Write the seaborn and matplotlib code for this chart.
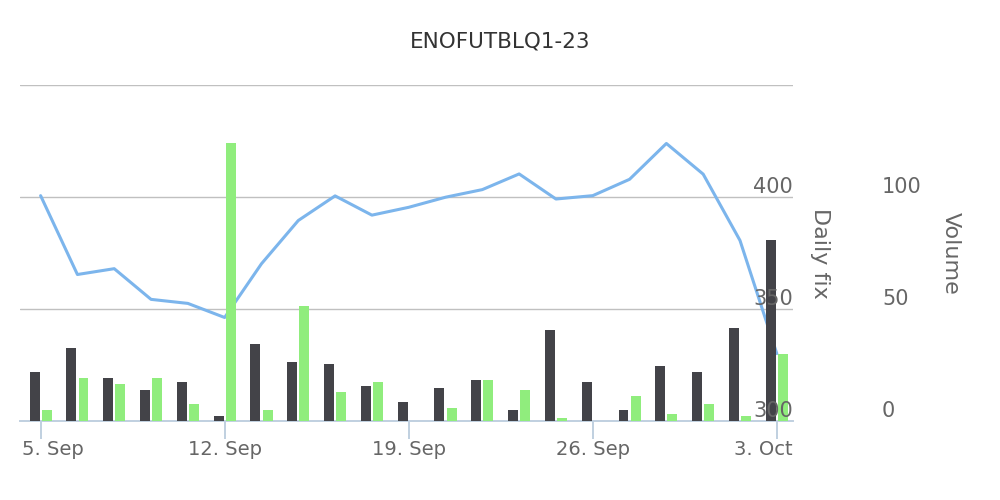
import pandas as pd
import seaborn as sns
from matplotlib import pyplot as plt
from matplotlib.transforms import ScaledTranslation

sns.set_style("white")
plt.rcParams['font.family'] = ['DejaVu Sans']

# business days, drawn on an ordinal axis
dates = ['2022-09-05', '2022-09-06', '2022-09-07', '2022-09-08', '2022-09-09',
         '2022-09-12', '2022-09-13', '2022-09-14', '2022-09-15', '2022-09-16',
         '2022-09-19', '2022-09-20', '2022-09-21', '2022-09-22', '2022-09-23',
         '2022-09-26', '2022-09-27', '2022-09-28', '2022-09-29', '2022-09-30',
         '2022-10-03']
daily_fix = [400.6, 365.4, 368.0, 354.3, 352.5, 346.2, 370.2, 389.5, 400.5, 391.9,
             395.4, 399.9, 403.3, 410.3, 399.1, 400.6, 407.9, 423.9, 410.2, 380.6,
             330.1]
volume_dark = [21.8, 32.5, 19.1, 13.8, 17.4, 2.2, 34.3, 26.3, 25.4, 15.6,
               8.5, 14.7, 18.3, 4.9, 40.5, 17.4, 4.9, 24.5, 21.8, 41.4,
               80.6]
volume_green = [4.9, 19.1, 16.5, 19.1, 7.6, 124.2, 4.9, 51.2, 12.9, 17.4,
                0.0, 5.8, 18.3, 13.8, 1.3, 0.0, 11.1, 3.1, 7.6, 2.2,
                29.8]
tick_dates = ['2022-09-05', '2022-09-12', '2022-09-19', '2022-09-26', '2022-10-03']
tick_labels = ['5. Sep', '12. Sep', '19. Sep', '26. Sep', '3. Oct']
fix_ticks = [300, 350, 400]
volume_ticks = [0, 50, 100]

n = len(dates)
volDF = pd.DataFrame({
    'date': dates * 2,
    'volume': volume_dark + volume_green,
    'series': ['dark'] * n + ['green'] * n,
})

fig = plt.figure(figsize=(10, 5), dpi=100)
ax = fig.add_axes([0.02, 0.158, 0.773, 0.672])   # line + grid
ax2 = ax.twinx()                                  # volume bars (above line)
ax3 = ax.twinx()                                  # daily fix labels on top

sns.lineplot(x=list(range(n)), y=daily_fix, ax=ax, color='#7cb5ec', lw=2.2,
             solid_joinstyle='round', solid_capstyle='round')
sns.barplot(data=volDF, x='date', y='volume', hue='series',
            palette=['#434348', '#90ed7d'], saturation=1, width=0.66, gap=0.18,
            errorbar=None, legend=False, linewidth=0, ax=ax2)

ax.set_xlim(-0.56, 20.44)
ax.set_ylim(300, 450)
ax2.set_ylim(0, 150)
ax3.set_ylim(300, 450)

# grid
ax.set_yticks([300, 350, 400, 450])
ax.yaxis.grid(True, color='#c0c0c0', lw=1)
ax.xaxis.grid(False)
ax.tick_params(axis='y', left=False, right=False, labelleft=False, labelright=False)
ax.set_ylabel('')
ax2.set_ylabel('')
ax2.set_xlabel('')

# x axis
ax.set_xticks([dates.index(d) for d in tick_dates], tick_labels)
ax.tick_params(axis='x', bottom=True, length=13, width=1.4, color='#c0d0e0',
               pad=1, labelsize=14, labelcolor='#666666')
xl = ax.get_xticklabels()
xl[0].set_ha('left')
xl[0].set_transform(xl[0].get_transform() + ScaledTranslation(-0.19, 0, fig.dpi_scale_trans))
xl[-1].set_ha('right')
xl[-1].set_transform(xl[-1].get_transform() + ScaledTranslation(0.155, 0, fig.dpi_scale_trans))

# daily fix axis (labels inside the plot)
ax3.set_yticks(fix_ticks, [str(t) for t in fix_ticks])
ax3.tick_params(axis='y', right=True, length=0, pad=0, labelsize=15, labelcolor='#666666')
for lbl in ax3.get_yticklabels():
    lbl.set_ha('right')
    lbl.set_va('bottom')
ax3.set_ylabel('Daily fix', rotation=270, va='center', ha='center', fontsize=16, color='#666666')
ax3.yaxis.set_label_coords(1.035, 0.5)

# volume axis
ax2.set_yticks(volume_ticks, [str(t) for t in volume_ticks])
ax2.tick_params(axis='y', right=True, length=0, pad=64, labelsize=15, labelcolor='#666666')
for lbl in ax2.get_yticklabels():
    lbl.set_va('bottom')
ax2.set_ylabel('Volume', rotation=270, va='center', ha='center', fontsize=16, color='#666666')
ax2.yaxis.set_label_coords(1.2044, 0.5)

for a in (ax, ax2, ax3):
    for s in ('top', 'left', 'right'):
        a.spines[s].set_visible(False)
ax2.spines['bottom'].set_visible(False)
ax3.spines['bottom'].set_visible(False)
ax.spines['bottom'].set_color('#c0d0e0')
ax.spines['bottom'].set_linewidth(1.4)

fig.text(0.5, 1 - 41 / 500, 'ENOFUTBLQ1-23', ha='center', va='center',
         fontsize=15.5, color='#333333')

plt.savefig('out.png', dpi=100, facecolor='white')
